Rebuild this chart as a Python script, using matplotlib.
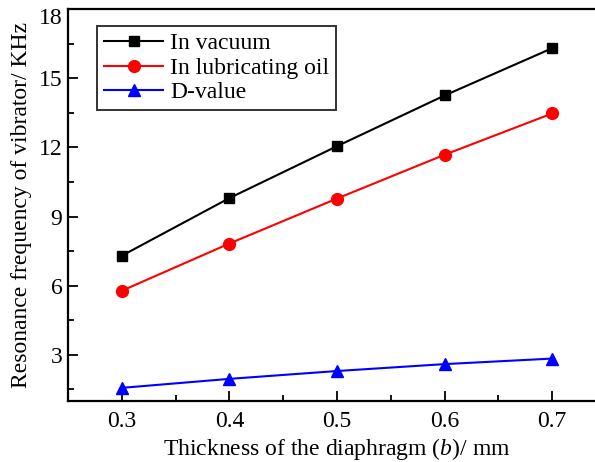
import numpy as np
import matplotlib
matplotlib.use('Agg')
import matplotlib.pyplot as plt
import matplotlib.transforms as mtransforms
from matplotlib.ticker import MultipleLocator

plt.rcParams['font.family'] = 'Liberation Serif'
plt.rcParams['mathtext.fontset'] = 'custom'
plt.rcParams['mathtext.rm'] = 'Liberation Serif'
plt.rcParams['mathtext.it'] = 'Liberation Serif:italic'

thickness = [0.3, 0.4, 0.5, 0.6, 0.7]
in_vacuum = [7.30, 9.80, 12.05, 14.25, 16.30]
in_oil = [5.78, 7.83, 9.78, 11.68, 13.47]
d_value = [1.57, 1.96, 2.30, 2.60, 2.84]

series_labels = ['In vacuum', 'In lubricating oil', 'D-value']
xtick_labels = ['0.3', '0.4', '0.5', '0.6', '0.7']
yticks = [3, 6, 9, 12, 15, 18]

fig = plt.figure(figsize=(5.95, 4.62), dpi=100)
W, H = 595.0, 462.0
ax = fig.add_axes([68 / W, 1 - 401 / H, (606 - 68) / W, (401 - 9) / H])

ax.plot(thickness, in_vacuum, color='black', marker='s', markersize=7.5, lw=1.5,
        label=series_labels[0])
ax.plot(thickness, in_oil, color='red', marker='o', markersize=8.5, lw=1.5,
        label=series_labels[1])
ax.plot(thickness, d_value, color='blue', marker='^', markersize=8.5, lw=1.5,
        label=series_labels[2])

ax.set_xlim(0.25, 0.75)
ax.set_ylim(1, 18)
ax.xaxis.set_minor_locator(MultipleLocator(0.05))
ax.yaxis.set_minor_locator(MultipleLocator(1.5))
ax.set_xticks(thickness)
ax.set_xticklabels(xtick_labels)
ax.set_yticks(yticks)

ax.tick_params(which='major', direction='in', length=7, width=1.3, labelsize=17)
ax.tick_params(axis='x', which='major', pad=7)
ax.tick_params(axis='y', which='major', pad=4)
ax.tick_params(which='minor', direction='in', length=4, width=1.3)
ax.tick_params(axis='y', which='both', right=False)
ax.tick_params(axis='x', which='both', top=False)
for s in ax.spines.values():
    s.set_linewidth(1.6)
ax.spines['right'].set_visible(False)

# top label sits a little lower, as in the source figure
fig.canvas.draw()
top_lbl = ax.get_yticklabels()[-1]
top_lbl.set_transform(top_lbl.get_transform() +
                      mtransforms.ScaledTranslation(0, -5 / 72, fig.dpi_scale_trans))

ax.set_xlabel('Thickness of the diaphragm ($\\it{b}$)/ mm', fontsize=17, labelpad=3)
ax.set_ylabel('Resonance frequency of vibrator/ KHz', fontsize=17, labelpad=5)

leg = ax.legend(loc='upper left', bbox_to_anchor=(0.054, 0.957), fontsize=17,
                frameon=True, fancybox=False, handlelength=2.5, borderpad=0.3,
                labelspacing=0.12, handletextpad=0.3, borderaxespad=0)
leg.get_frame().set_edgecolor('black')
leg.get_frame().set_linewidth(1.4)

fig.savefig('out.png', dpi=100)
